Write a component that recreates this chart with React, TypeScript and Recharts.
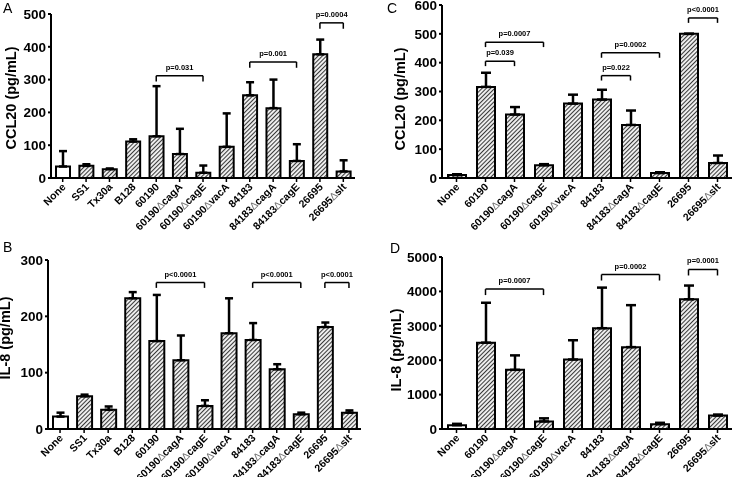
import React from 'react';
import { BarChart, Bar, XAxis, YAxis, ErrorBar, ReferenceLine, Cell } from 'recharts';

const FONT = '"Liberation Sans", Arial, sans-serif';

const catsAB = ['None', 'SS1', 'Tx30a', 'B128', '60190', '60190ΔcagA', '60190ΔcagE', '60190ΔvacA', '84183', '84183ΔcagA', '84183ΔcagE', '26695', '26695Δslt'];
const catsCD = ['None', '60190', '60190ΔcagA', '60190ΔcagE', '60190ΔvacA', '84183', '84183ΔcagA', '84183ΔcagE', '26695', '26695Δslt'];

const ccl20AMean = [35, 37, 27, 111, 127, 73, 16, 95, 252, 213, 52, 377, 20];
const ccl20AUpper = [82, 42, 29, 118, 280, 150, 38, 197, 292, 300, 103, 422, 54];
const il8BMean = [22, 58, 34, 232, 156, 122, 41, 170, 158, 106, 26, 181, 29];
const il8BUpper = [29, 61, 40, 243, 238, 166, 51, 232, 188, 115, 29, 189, 33];
const ccl20CMean = [10, 316, 220, 44, 258, 272, 184, 17, 500, 52];
const ccl20CUpper = [13, 365, 246, 48, 289, 306, 234, 20, 500, 78];
const il8DMean = [110, 2510, 1720, 220, 2020, 2930, 2380, 140, 3770, 390];
const il8DUpper = [150, 3670, 2140, 310, 2580, 4110, 3600, 180, 4170, 420];

const ticksA = [0, 100, 200, 300, 400, 500];
const ticksB = [0, 100, 200, 300];
const ticksC = [0, 100, 200, 300, 400, 500, 600];
const ticksD = [0, 1000, 2000, 3000, 4000, 5000];

type Bracket = [string, string, number, string];
const bracketsA: Bracket[] = [
  ['60190', '60190ΔcagE', 312, 'p=0.031'],
  ['84183', '84183ΔcagE', 354, 'p=0.001'],
  ['26695', '26695Δslt', 473, 'p=0.0004'],
];
const bracketsB: Bracket[] = [
  ['60190', '60190ΔcagE', 260, 'p<0.0001'],
  ['84183', '84183ΔcagE', 260, 'p<0.0001'],
  ['26695', '26695Δslt', 260, 'p<0.0001'],
];
const bracketsC: Bracket[] = [
  ['60190', '60190ΔcagA', 405, 'p=0.039'],
  ['60190', '60190ΔcagE', 471, 'p=0.0007'],
  ['84183', '84183ΔcagA', 355, 'p=0.022'],
  ['84183', '84183ΔcagE', 434, 'p=0.0002'],
  ['26695', '26695Δslt', 555, 'p<0.0001'],
];
const bracketsD: Bracket[] = [
  ['60190', '60190ΔcagE', 4067, 'p=0.0007'],
  ['84183', '84183ΔcagE', 4490, 'p=0.0002'],
  ['26695', '26695Δslt', 4637, 'p=0.0001'],
];

const XTick = (props: any) => {
  const { x, y, payload } = props;
  const name: string = String(payload.value);
  const parts = name.split('Δ');
  return (
    <g transform={`translate(${x + 1},${y})`}>
      <text transform="rotate(-45)" textAnchor="end" dy="0.35em" fontSize={10.5} fontWeight="bold" fontFamily={FONT} fill="#000">
        {parts[0]}
        {parts.length > 1 ? <tspan fontWeight="normal" fill="#777">∆</tspan> : null}
        {parts.length > 1 ? parts[1] : null}
      </text>
    </g>
  );
};

const makeBracketLabel = (text: string) => (lp: any) => {
  const vb = lp.viewBox || {};
  const x0 = vb.x !== undefined ? vb.x : Math.min(vb.x1, vb.x2);
  const w = vb.width !== undefined ? vb.width : Math.abs(vb.x2 - vb.x1);
  const y0 = vb.y !== undefined ? vb.y : Math.min(vb.y1, vb.y2);
  return (
    <text x={x0 + w / 2} y={y0 - 6} textAnchor="middle" fontSize={7.5} fontWeight="bold" fontFamily={FONT} fill="#000">
      {text}
    </text>
  );
};

type PanelProps = {
  id: string;
  letter: string;
  letterX: number;
  letterY: number;
  cats: string[];
  mean: number[];
  upper: number[];
  ticks: number[];
  brackets: Bracket[];
  leg: number;
  yLabel: string;
  yLabelX: number;
  yLabelY: number;
  left: number;
  top: number;
  width: number;
  height: number;
  marginTop: number;
  marginRight: number;
  yAxisWidth: number;
  xAxisHeight: number;
  barSize: number;
  capWidth: number;
  plainNone: boolean;
};

const Panel = (p: PanelProps) => {
  const data = p.cats.map((name, i) => ({ name, value: p.mean[i], err: [0, p.upper[i] - p.mean[i]] }));
  const yMax = p.ticks[p.ticks.length - 1];
  const hatch = `hatch-${p.id}`;
  return (
    <div style={{ position: 'absolute', left: p.left, top: p.top, width: p.width, height: p.height }}>
      <BarChart
        width={p.width}
        height={p.height}
        data={data}
        margin={{ top: p.marginTop, right: p.marginRight, left: 0, bottom: 0 }}
      >
        <defs>
          <pattern id={hatch} patternUnits="userSpaceOnUse" width="3" height="3" patternTransform="rotate(45)">
            <rect width="3" height="3" fill="#f2f2f2" />
            <line x1="0.5" y1="0" x2="0.5" y2="3" stroke="#3a3a3a" strokeWidth="1.1" />
          </pattern>
        </defs>
        <XAxis
          dataKey="name"
          interval={0}
          height={p.xAxisHeight}
          tick={XTick}
          tickSize={4}
          tickMargin={3}
          axisLine={{ stroke: '#000', strokeWidth: 2 }}
          tickLine={{ stroke: '#000', strokeWidth: 1.5 }}
        />
        <YAxis
          type="number"
          domain={[0, yMax]}
          ticks={p.ticks}
          interval={0}
          allowDataOverflow
          width={p.yAxisWidth}
          tickSize={3}
          tickMargin={2}
          tick={{ fontSize: 13.5, fontWeight: 'bold', fill: '#000', fontFamily: FONT }}
          axisLine={{ stroke: '#000', strokeWidth: 2 }}
          tickLine={{ stroke: '#000', strokeWidth: 2 }}
        />
        <Bar dataKey="value" barSize={p.barSize} stroke="#000" strokeWidth={2} isAnimationActive={false}>
          {data.map((d, i) => (
            <Cell key={i} fill={p.plainNone && d.name === 'None' ? '#fff' : `url(#${hatch})`} />
          ))}
          <ErrorBar dataKey="err" width={p.capWidth} strokeWidth={2.5} stroke="#000" direction="y" isAnimationActive={false} />
        </Bar>
        {p.brackets.map((b, i) => (
          <ReferenceLine
            key={`h${i}`}
            segment={[{ x: b[0], y: b[2] }, { x: b[1], y: b[2] }]}
            stroke="#000"
            strokeWidth={1.5}
            ifOverflow="visible"
            label={{ content: makeBracketLabel(b[3]) }}
          />
        ))}
        {p.brackets.map((b, i) => (
          <ReferenceLine
            key={`l${i}`}
            segment={[{ x: b[0], y: b[2] }, { x: b[0], y: b[2] - p.leg }]}
            stroke="#000"
            strokeWidth={1.5}
            ifOverflow="visible"
          />
        ))}
        {p.brackets.map((b, i) => (
          <ReferenceLine
            key={`r${i}`}
            segment={[{ x: b[1], y: b[2] }, { x: b[1], y: b[2] - p.leg }]}
            stroke="#000"
            strokeWidth={1.5}
            ifOverflow="visible"
          />
        ))}
        <text
          x={p.yLabelX}
          y={p.yLabelY}
          transform={`rotate(-90, ${p.yLabelX}, ${p.yLabelY})`}
          textAnchor="middle"
          dy="0.35em"
          fontSize={14.5}
          fontWeight="bold"
          fontFamily={FONT}
          fill="#000"
        >
          {p.yLabel}
        </text>
        <text x={p.letterX} y={p.letterY} fontSize={14} fontFamily={FONT} fill="#000">
          {p.letter}
        </text>
      </BarChart>
    </div>
  );
};

export default function App() {
  return (
    <div style={{ position: 'absolute', left: 0, top: 0, width: 733, height: 477, background: '#fff', overflow: 'hidden', willChange: 'transform' }}>
      <Panel
        id="A" letter="A" letterX={3} letterY={13}
        cats={catsAB} mean={ccl20AMean} upper={ccl20AUpper} ticks={ticksA}
        brackets={bracketsA} leg={18}
        yLabel="CCL20 (pg/mL)" yLabelX={11} yLabelY={98}
        left={0} top={0} width={366} height={240}
        marginTop={14} marginRight={11} yAxisWidth={51} xAxisHeight={62}
        barSize={14} capWidth={4} plainNone={true}
      />
      <Panel
        id="B" letter="B" letterX={3} letterY={12}
        cats={catsAB} mean={il8BMean} upper={il8BUpper} ticks={ticksB}
        brackets={bracketsB} leg={9.5}
        yLabel="IL-8 (pg/mL)" yLabelX={5} yLabelY={98}
        left={0} top={240} width={366} height={237}
        marginTop={20} marginRight={5} yAxisWidth={48} xAxisHeight={48}
        barSize={15} capWidth={4} plainNone={true}
      />
      <Panel
        id="C" letter="C" letterX={21} letterY={13}
        cats={catsCD} mean={ccl20CMean} upper={ccl20CUpper} ticks={ticksC}
        brackets={bracketsC} leg={17}
        yLabel="CCL20 (pg/mL)" yLabelX={34} yLabelY={99}
        left={366} top={0} width={367} height={240}
        marginTop={5} marginRight={1} yAxisWidth={76} xAxisHeight={62}
        barSize={18} capWidth={5} plainNone={false}
      />
      <Panel
        id="D" letter="D" letterX={24} letterY={13}
        cats={catsCD} mean={il8DMean} upper={il8DUpper} ticks={ticksD}
        brackets={bracketsD} leg={174}
        yLabel="IL-8 (pg/mL)" yLabelX={30} yLabelY={110}
        left={366} top={240} width={367} height={237}
        marginTop={17} marginRight={1} yAxisWidth={76} xAxisHeight={48}
        barSize={18} capWidth={5} plainNone={true}
      />
    </div>
  );
}
